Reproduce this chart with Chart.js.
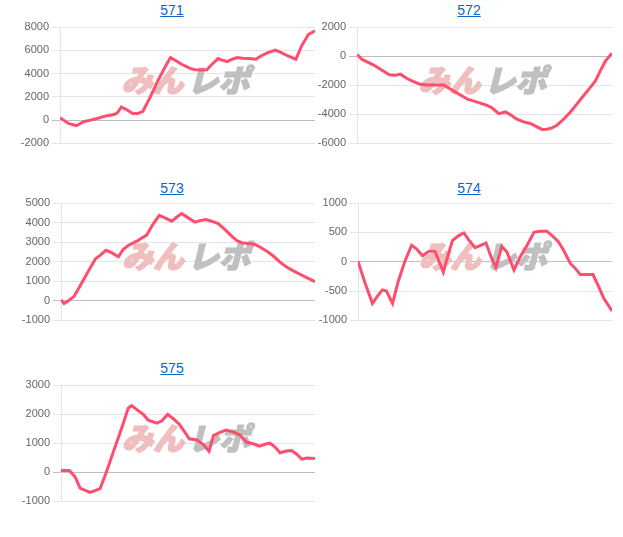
<!DOCTYPE html>
<html><head><meta charset="utf-8">
<script src="https://cdn.jsdelivr.net/npm/chart.js@4/dist/chart.umd.min.js"></script>
<style>
body{margin:0;background:#fff;}
#wrap{position:relative;width:623px;height:537px;overflow:hidden;background:#fff;}
.t{position:absolute;width:100px;text-align:center;font:14px/16px "Liberation Sans",Arial,sans-serif;color:#0a66c8;text-decoration:underline;}
canvas{position:absolute;}
</style></head><body><div id="wrap"></div>
<script>
// ---- data (x = progress through the session, %; y = difference in medals) ----
const titles = ['571','572','573','574','575'];

const x571 = [0,3.3,6.4,9.3,11.9,14.6,16.6,18.5,21.2,22.5,24.1,26.5,28.5,30.5,32.5,35.1,38.4,41.1,43.3,45.0,47.7,51.0,53.0,55.6,57.6,59.6,62.0,63.6,65.6,67.5,69.5,71.5,74.2,76.8,78.8,81.5,84.5,86.8,89.4,92.5,94.7,97.4,100];
const y571 = [200,-280,-480,-140,0,140,280,370,480,620,1130,850,565,565,760,1840,3390,4520,5370,5170,4800,4440,4330,4300,4330,4800,5290,5150,5030,5230,5370,5310,5290,5230,5510,5800,6020,5800,5510,5230,6360,7350,7680];

const x572 = [0,2.0,4.6,7.2,9.8,12.7,15.0,17.0,19.6,22.2,24.8,27.5,30.7,34.0,36.6,39.9,43.1,47.1,51.0,52.9,55.6,58.2,60.1,62.7,65.4,68.0,70.6,72.5,74.5,76.5,78.4,81.0,83.7,86.3,88.9,91.5,93.5,95.4,97.4,100];
const y572 = [110,-230,-450,-680,-970,-1290,-1310,-1240,-1540,-1760,-1940,-1990,-1990,-1990,-2260,-2600,-2940,-3160,-3390,-3550,-3960,-3840,-4020,-4340,-4520,-4630,-4860,-5040,-5020,-4930,-4750,-4340,-3840,-3280,-2710,-2150,-1700,-1020,-340,200];

const x573 = [0,1.2,2.9,5.1,7.5,10.4,13.6,15.4,17.7,19.9,22.6,24.5,26.5,29.8,33.7,36.4,38.7,40.9,43.6,45.5,47.5,50.1,52.8,54.7,57.1,59.3,61.9,64.6,67.2,69.2,71.1,73.8,76.4,78.3,81.0,83.6,86.2,88.8,91.5,94.1,96.7,100];
const y573 = [50,-140,0,220,760,1440,2150,2320,2580,2460,2250,2630,2830,3050,3360,3950,4370,4240,4070,4270,4460,4240,4020,4100,4150,4070,3950,3640,3310,3080,2970,2930,2880,2750,2540,2290,1980,1730,1530,1360,1190,980];

const x574 = [0,2.6,5.7,7.6,9.6,11.2,13.6,15.8,18.4,21.1,23.0,25.4,28.0,30.3,33.6,35.1,37.2,39.5,41.7,43.8,46.1,48.3,50.4,52.6,54.3,56.6,58.6,61.4,63.8,66.2,69.3,71.7,74.3,76.3,78.9,80.9,83.6,85.5,87.5,89.5,92.5,94.7,96.7,100];
const y574 = [10,-340,-710,-590,-480,-500,-710,-340,0,280,220,100,180,180,-180,60,360,440,490,360,240,280,320,60,-100,260,170,-140,80,250,500,520,520,450,340,200,-30,-110,-220,-220,-220,-420,-620,-840];

const x575 = [0,3.3,5.5,7.5,11.4,13.4,15.4,17.7,20.6,23.9,26.5,27.8,29.8,32.4,34.4,37.7,39.6,42.0,44.2,46.6,48.8,50.5,53.4,56.0,58.3,60.0,62.6,65.0,67.8,70.5,73.1,75.7,78.1,81.0,82.3,84.3,86.2,88.8,90.8,92.8,94.8,96.7,100];
const y575 = [60,60,-150,-540,-690,-630,-560,-30,700,1520,2210,2290,2160,1990,1790,1690,1760,1990,1840,1650,1370,1150,1110,960,720,1260,1370,1450,1390,1280,1030,980,900,980,1000,870,670,730,750,620,450,490,470];

// tick labels on each y axis
const ticks571 = [-2000,0,2000,4000,6000,8000];
const ticks572 = [-6000,-4000,-2000,0,2000];
const ticks573 = [-1000,0,1000,2000,3000,4000,5000];
const ticks574 = [-1000,-500,0,500,1000];
const ticks575 = [-1000,0,1000,2000,3000];

// ---- layout ----
const panels = [
  {xs:x571, ys:y571, ticks:ticks571, left:0,   top:17,  w:320, h:136, axisW:60, tx:172, ty:2},
  {xs:x572, ys:y572, ticks:ticks572, left:297, top:17,  w:320, h:136, axisW:60, tx:469, ty:2},
  {xs:x573, ys:y573, ticks:ticks573, left:1,   top:193, w:319, h:137, axisW:60, tx:172, ty:180},
  {xs:x574, ys:y574, ticks:ticks574, left:298, top:193, w:319, h:137, axisW:60, tx:469, ty:180},
  {xs:x575, ys:y575, ticks:ticks575, left:1,   top:375, w:319, h:136, axisW:60, tx:172, ty:360}
];

const watermark = {
  id:'wm',
  beforeDatasetsDraw(chart){
    const {ctx, chartArea:a} = chart;
    const cx = (a.left+a.right)/2 - 3, cy = (a.top+a.bottom)/2 - 5;
    ctx.save();
    ctx.font = 'italic 900 31px "Noto Sans CJK JP"';
    ctx.textBaseline = 'middle';
    ctx.lineJoin = 'round';
    ctx.lineWidth = 1.5;
    ctx.textAlign = 'right';
    ctx.fillStyle = ctx.strokeStyle = 'rgb(240,190,190)';
    ctx.strokeText('みん', cx-1, cy); ctx.fillText('みん', cx-1, cy);
    ctx.textAlign = 'left';
    ctx.fillStyle = ctx.strokeStyle = 'rgb(192,192,192)';
    ctx.strokeText('レポ', cx+3, cy); ctx.fillText('レポ', cx+3, cy);
    ctx.restore();
  }
};

const wrap = document.getElementById('wrap');
panels.forEach((p, i) => {
  const a = document.createElement('a');
  a.href = '#'; a.className = 't'; a.textContent = titles[i];
  a.style.left = (p.tx - 50) + 'px'; a.style.top = p.ty + 'px';
  wrap.appendChild(a);

  const c = document.createElement('canvas');
  c.width = p.w; c.height = p.h;
  c.style.left = p.left + 'px'; c.style.top = p.top + 'px';
  c.style.width = p.w + 'px'; c.style.height = p.h + 'px';
  wrap.appendChild(c);

  const t = p.ticks;
  new Chart(c, {
    type: 'line',
    data: { datasets: [{
      data: p.xs.map((x, k) => ({x, y: p.ys[k]})),
      borderColor: 'rgb(255,77,109)', borderWidth: 3, pointRadius: 0, tension: 0, fill: false
    }]},
    options: {
      responsive: false, animation: false, devicePixelRatio: 1,
      layout: { padding: { top: 10, bottom: 8, right: 5, left: 0 } },
      plugins: { legend: {display:false}, title: {display:false}, tooltip: {enabled:false} },
      scales: {
        x: { type: 'linear', min: 0, max: 100, display: false },
        y: {
          min: t[0], max: t[t.length-1],
          afterFit: s => { s.width = p.axisW; },
          afterBuildTicks: s => { s.ticks = t.map(v => ({value: v})); },
          ticks: { color: '#666', font: { family: '"Liberation Sans", Arial, sans-serif', size: 11 }, padding: 3,
                   callback: v => String(v) },
          grid: {
            color: ctx => (ctx.tick && ctx.tick.value === 0) ? 'rgba(0,0,0,0.25)' : 'rgba(0,0,0,0.1)',
            tickLength: 8
          },
          border: { display: true, color: 'rgba(0,0,0,0.1)' }
        }
      }
    },
    plugins: [watermark]
  });
});
</script></body></html>
